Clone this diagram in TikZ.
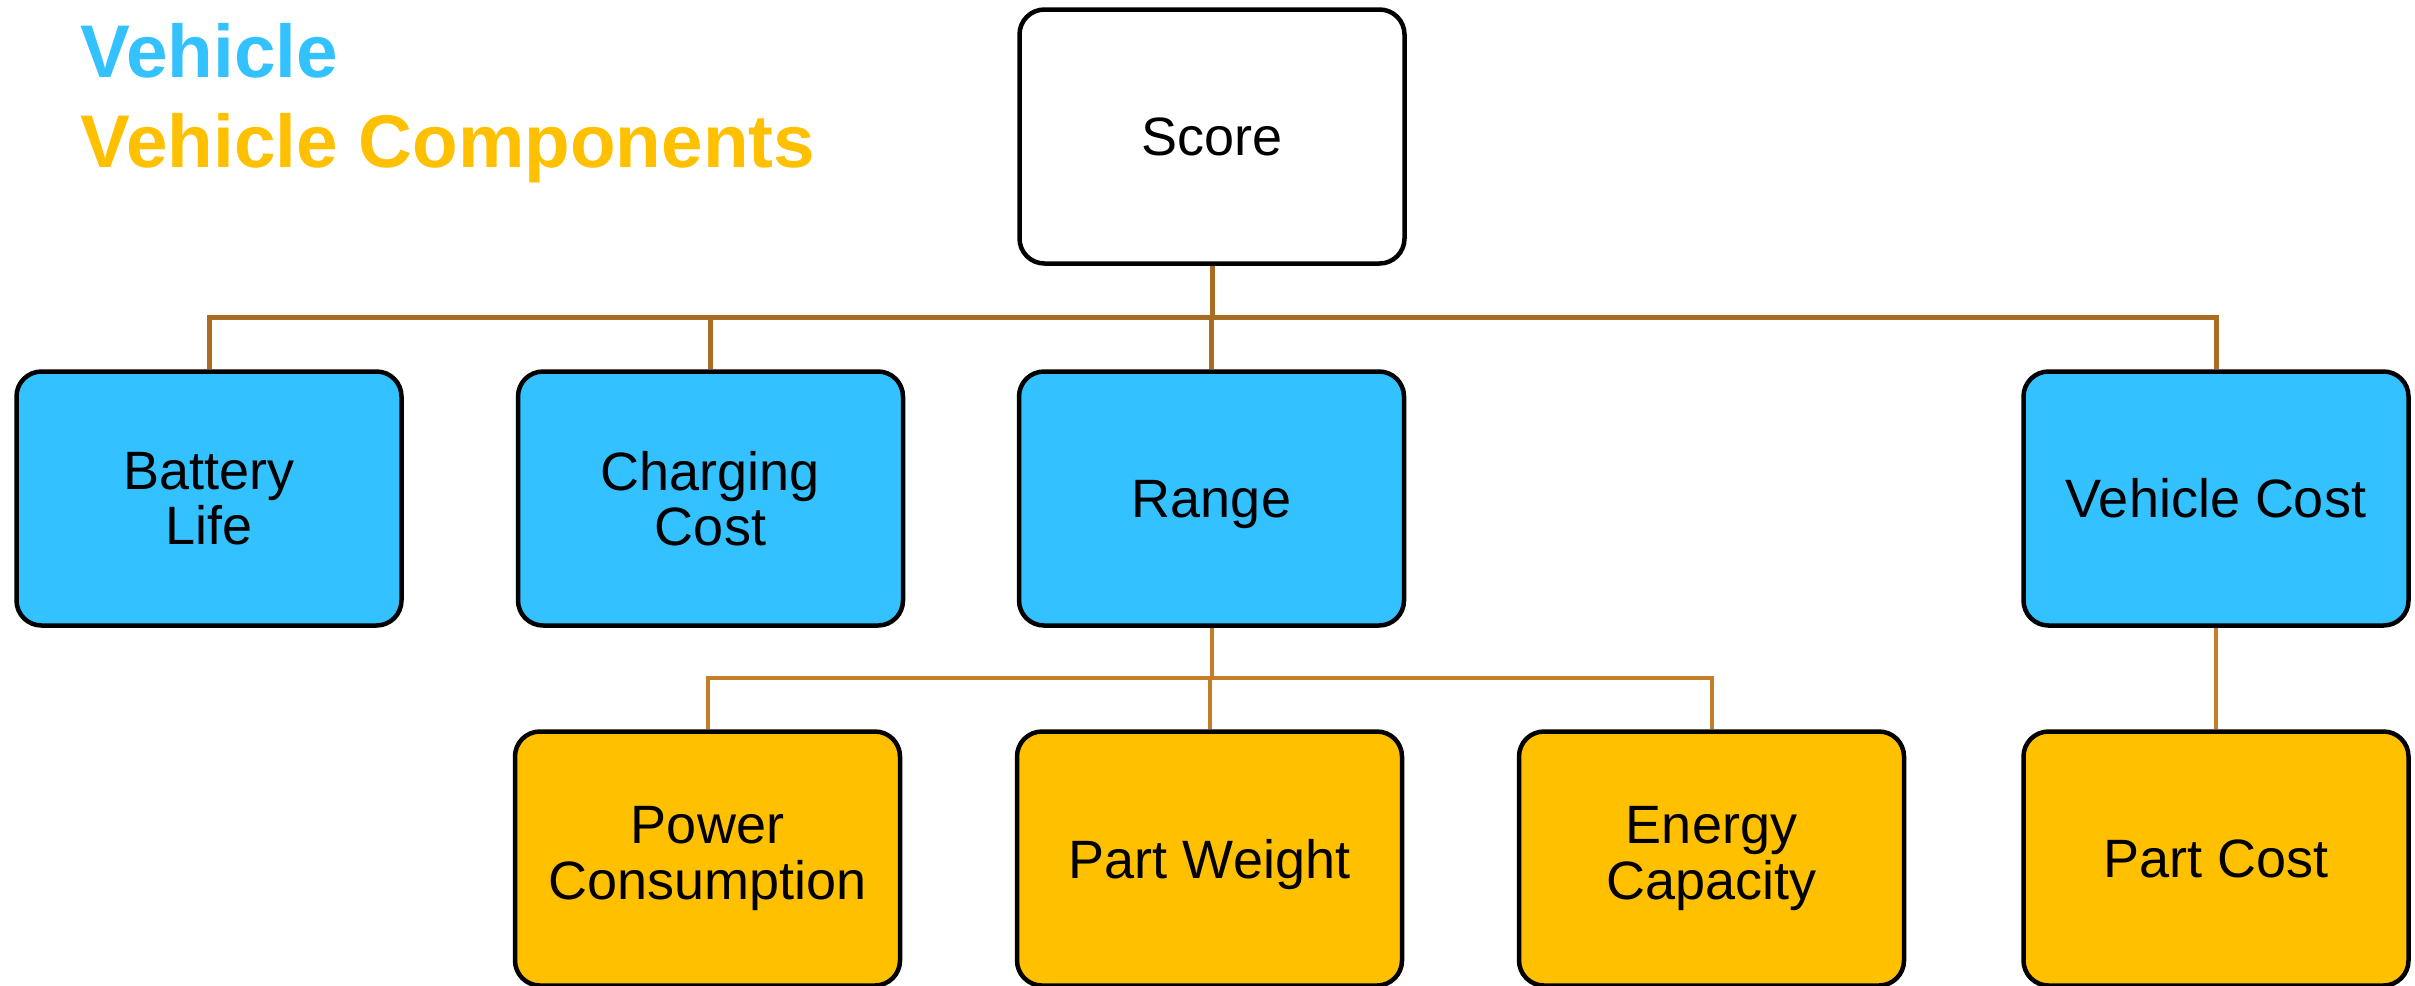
\documentclass[tikz,border=0pt]{standalone}
\usepackage{fontspec}
\setmainfont{Liberation Sans}
\definecolor{vehblue}{RGB}{51,193,255}
\definecolor{compyellow}{RGB}{255,192,0}
\definecolor{linktop}{RGB}{170,108,34}
\definecolor{linklow}{RGB}{196,126,40}
% label whose descenders do not shift its vertical centring
\newcommand{\nodepth}[1]{\raisebox{0pt}[\height][0pt]{#1}}
\begin{document}
\begin{tikzpicture}[x=0.3pt,y=-0.3pt,
  box/.style={draw=black, line width=1.35pt, rounded corners=7.5pt,
    minimum width=115.5pt, minimum height=76.2pt, inner sep=0pt,
    align=center, font=\fontsize{16.2}{16.6}\selectfont},
  rootbox/.style={box, fill=white},
  vehbox/.style={box, fill=vehblue},
  partbox/.style={box, fill=compyellow},
  linkA/.style={draw=linktop, line width=1.5pt},
  linkB/.style={draw=linklow, line width=1.2pt},
  legend/.style={anchor=base west, inner sep=0pt,
    font=\fontsize{22.4}{24}\selectfont\bfseries}]

\useasboundingbox (0,0) rectangle (2415,985);

% legend
\node[legend, text=vehblue]    (legveh)  at (80,77)  {Vehicle};
\node[legend, text=compyellow] (legcomp) at (80,167) {Vehicle Components};

% tree nodes
\node[rootbox] (score) at (1212,136.5) {Score};

\node[vehbox] (bat) at (209,498.5)    {Battery\\Life};
\node[vehbox] (chg) at (710.5,498.5)  {Charging\\Cost};
\node[vehbox] (rng) at (1211.5,498.5) {\nodepth{Range}};
\node[vehbox] (vc)  at (2216,498.5)   {Vehicle Cost};

\node[partbox] (pow)  at (707.5,858.5)  {Power\\Consumption};
\node[partbox] (pw)   at (1209.5,858.5) {\nodepth{Part Weight}};
\node[partbox] (ec)   at (1711.5,858.5) {Energy\\Capacity};
\node[partbox] (pcst) at (2216,858.5)   {Part Cost};

% bus levels
\coordinate (busA) at (0,317);
\coordinate (busB) at (0,678);

% connectors: Score to vehicle level
\foreach \t in {bat,chg,rng,vc}
  \draw[linkA] (score.south) -- (score.south |- busA) -| (\t.north);

% connectors: Range to its components
\foreach \t in {pow,pw,ec}
  \draw[linkB] (rng.south) -- (rng.south |- busB) -| (\t.north);

% connector: Vehicle Cost to Part Cost
\draw[linkB] (vc.south) -- (pcst.north);
\end{tikzpicture}
\end{document}
